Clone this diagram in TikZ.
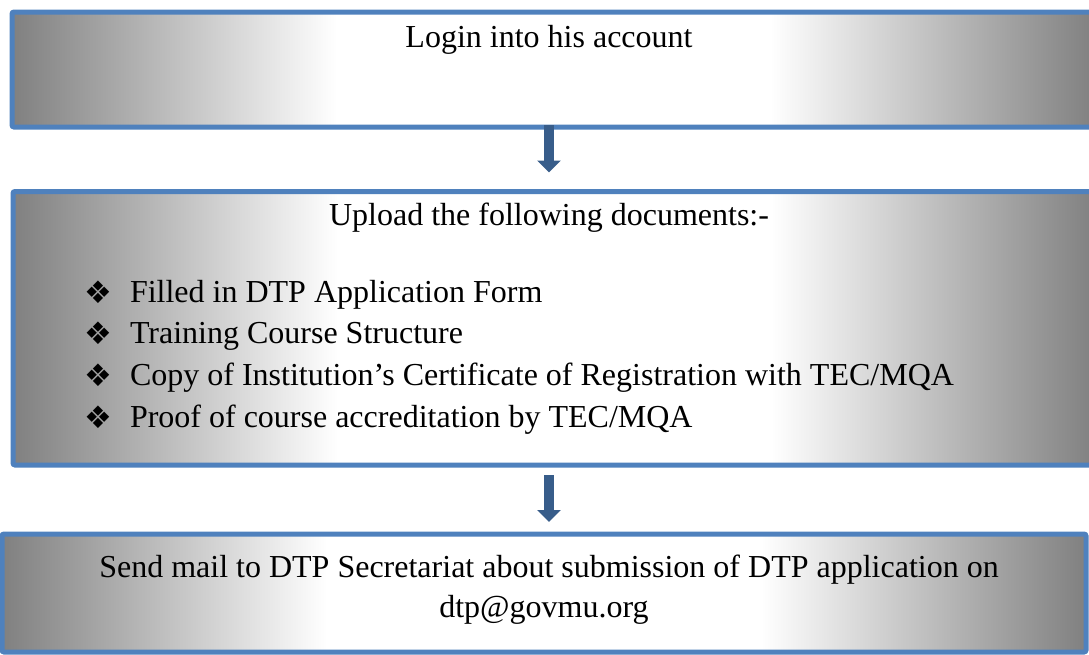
\documentclass[tikz,border=0pt]{standalone}
\usepackage{fontspec}
\setmainfont{Liberation Serif}
\newfontfamily\dingfont{DejaVu Sans}
\usetikzlibrary{arrows.meta}
\definecolor{bordblue}{RGB}{79,129,189}
\definecolor{arrblue}{RGB}{56,93,138}
\definecolor{shgray}{RGB}{128,128,128}
\pgfdeclarehorizontalshading{boxshade}{100bp}{color(0bp)=(shgray); color(25bp)=(shgray); color(40bp)=(white); color(60bp)=(white); color(75bp)=(shgray); color(100bp)=(shgray)}
\tikzset{
  flowbox/.style={draw=bordblue, line width=5pt, rounded corners=2pt, shading=boxshade, anchor=north west, inner sep=0pt, outer sep=0pt},
  txt/.style={inner sep=0pt, outer sep=0pt, font=\fontsize{32}{38}\selectfont},
  bul/.style={inner sep=0pt, outer sep=0pt, anchor=base west, font=\dingfont\fontsize{31}{31}\selectfont},
  bigarrow/.style={draw=arrblue, line width=10pt, -{Triangle[width=23pt,length=12pt]}}
}
\begin{document}
\begin{tikzpicture}[x=1pt,y=-1pt]
\useasboundingbox (0,0) rectangle (1089,654);
\clip (0,0) rectangle (1089,654);
\node[flowbox, minimum width=1083pt, minimum height=115pt] (b1) at (12,12) {};
\node[flowbox, minimum width=1083pt, minimum height=273.5pt] (b2) at (13,191.5) {};
\node[flowbox, minimum width=1084pt, minimum height=118pt] (b3) at (2,534) {};
\coordinate (ax) at (549,0);
\draw[bigarrow, shorten <=-2pt, shorten >=19pt] (b1.south -| ax) -- (b2.north -| ax);
\draw[bigarrow, shorten <=10pt, shorten >=12pt] (b2.south -| ax) -- (b3.north -| ax);
\node[txt, anchor=base] (t1) at (549,47) {Login into his account};
\node[txt, anchor=base] (t2) at (549,225) {Upload the following documents:-};
\foreach \i/\s in {0/{Filled in DTP Application Form},1/{Training Course Structure},2/{Copy of Institution’s Certificate of Registration with TEC/MQA},3/{Proof of course accreditation by TEC/MQA}}{
  \node[bul] (m\i) at (84,303+41.7*\i) {❖};
  \node[txt, anchor=base west] (l\i) at (130,302+41.7*\i) {\s};
}
\node[txt, anchor=base] (t3) at (549,577) {Send mail to DTP Secretariat about submission of DTP application on};
\node[txt, anchor=base] (t4) at (544,617) {dtp@govmu.org};
\end{tikzpicture}
\end{document}
